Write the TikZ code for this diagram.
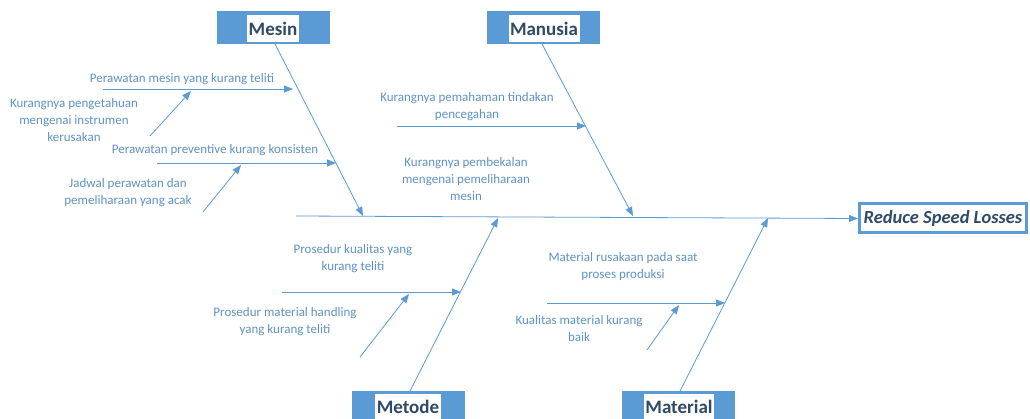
\documentclass[tikz,border=0pt]{standalone}
\usepackage{fontspec}
\setmainfont{Carlito}
\usetikzlibrary{arrows.meta}
\definecolor{boxblue}{HTML}{5B9BD5}
\definecolor{linblue}{HTML}{5B9BD5}
\definecolor{txtblue}{HTML}{5E93C6}
\definecolor{darktxt}{HTML}{2F4A66}
\tikzset{
  catbox/.style={fill=boxblue, draw=none, minimum width=113pt, minimum height=33pt, inner sep=0pt},
  cattext/.style={fill=white, text=darktxt, font=\fontsize{19}{20}\selectfont\bfseries, inner sep=1.5pt, minimum height=27pt},
  lbl/.style={text=txtblue, font=\fontsize{13}{17}\selectfont, align=center, inner sep=0pt},
  bone/.style={draw=linblue, line width=0.8pt, -{Triangle[length=9pt,width=7pt]}},
}
\begin{document}
\begin{tikzpicture}[x=1pt,y=-1pt]
\useasboundingbox (0,0) rectangle (1030,419);
\clip (0,0) rectangle (1030,419);
% category boxes
\node[catbox] (mesin) at (273.5,27.5) {};
\node[cattext] (mesinT) at (273,28.5) {Mesin};
\node[catbox] (manusia) at (543.5,27.5) {};
\node[cattext] (manusiaT) at (544,28.5) {Manusia};
\node[catbox, minimum height=40pt] (metode) at (408.5,411) {};
\node[cattext] (metodeT) at (408,407) {Metode};
\node[catbox, minimum height=40pt] (material) at (678.5,411) {};
\node[cattext] (materialT) at (679,407) {Material};
% effect box
\node[draw=boxblue, line width=3pt, fill=white, minimum width=167pt, minimum height=29pt, inner sep=1pt,
  text=darktxt, font=\fontsize{18.5}{20}\selectfont\bfseries\itshape] (effect) at (943,218.5) {Reduce Speed Losses};
% spine
\coordinate (spineL) at (296,216);
\draw[bone] (spineL) -- (effect.west);
% main bones
\coordinate (mesinE) at (363,216);
\coordinate (manusiaE) at (633,216);
\coordinate (metodeE) at (498,218);
\coordinate (materialE) at (768,218);
\coordinate (mesinS) at (275,44);
\coordinate (manusiaS) at (542,44);
\coordinate (metodeS) at (410,391);
\coordinate (materialS) at (680,391);
\draw[bone] (mesinS) -- (mesinE);
\draw[bone] (manusiaS) -- (manusiaE);
\draw[bone] (metodeS) -- (metodeE);
\draw[bone] (materialS) -- (materialE);
% Mesin sub-bones
\coordinate (m1s) at (103,89);
\coordinate (m1e) at (293,89);
\draw[bone] (m1s) -- (m1e);
\node[lbl] (m1l) at (182,79) {Perawatan mesin yang kurang teliti};
\coordinate (m11s) at (150,136);
\coordinate (m11e) at (191,91);
\draw[bone] (m11s) -- (m11e);
\node[lbl] (m11l) at (74,120) {Kurangnya pengetahuan\\mengenai instrumen\\kerusakan};
\coordinate (m2s) at (157,163);
\coordinate (m2e) at (336,163);
\draw[bone] (m2s) -- (m2e);
\node[lbl] (m2l) at (215,150) {Perawatan preventive kurang konsisten};
\coordinate (m21s) at (203,212);
\coordinate (m21e) at (241,165);
\draw[bone] (m21s) -- (m21e);
\node[lbl] (m21l) at (128,193) {Jadwal perawatan dan\\pemeliharaan yang acak};
% Manusia sub-bones
\coordinate (h1s) at (397,126);
\coordinate (h1e) at (586,126);
\draw[bone] (h1s) -- (h1e);
\node[lbl] (h1l) at (467,107) {Kurangnya pemahaman tindakan\\pencegahan};
\node[lbl] (h2l) at (466,179) {Kurangnya pembekalan\\mengenai pemeliharaan\\mesin};
% Metode sub-bones
\coordinate (d1s) at (282,292);
\coordinate (d1e) at (461,292);
\draw[bone] (d1s) -- (d1e);
\node[lbl] (d1l) at (353,259) {Prosedur kualitas yang\\kurang teliti};
\coordinate (d11s) at (360,357);
\coordinate (d11e) at (409,294);
\draw[bone] (d11s) -- (d11e);
\node[lbl] (d11l) at (285,322) {Prosedur material handling\\yang kurang teliti};
% Material sub-bones
\coordinate (t1s) at (547,303);
\coordinate (t1e) at (725,303);
\draw[bone] (t1s) -- (t1e);
\node[lbl] (t1l) at (623,267) {Material rusakaan pada saat\\proses produksi};
\coordinate (t11s) at (647,350);
\coordinate (t11e) at (679,305);
\draw[bone] (t11s) -- (t11e);
\node[lbl] (t11l) at (579,329) {Kualitas material kurang\\baik};
\end{tikzpicture}
\end{document}
